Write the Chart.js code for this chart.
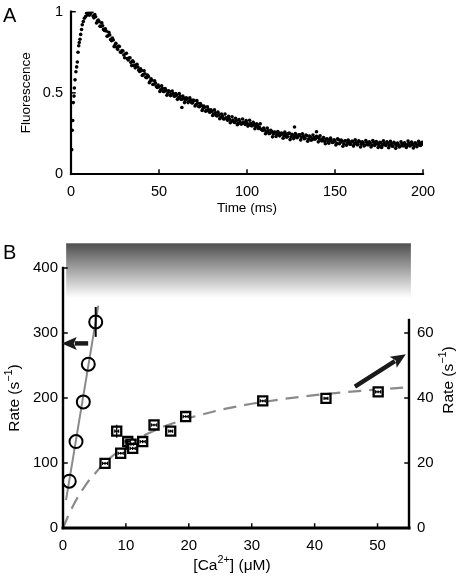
<!DOCTYPE html>
<html><head><meta charset="utf-8">
<script src="https://cdn.jsdelivr.net/npm/chart.js@4.4.0/dist/chart.umd.min.js"></script>
<style>
html,body{margin:0;padding:0;background:#fff;width:464px;height:582px;overflow:hidden;}
canvas{position:absolute;left:0;}
#c1{top:0}
#c2{top:230px}
</style></head><body>
<canvas id="c1" width="464" height="230"></canvas>
<canvas id="c2" width="464" height="352"></canvas>
<script>
// ---------------- Panel A data ----------------
const riseTime  = [0.4, 0.7, 1.0, 1.3, 1.7, 1.9, 2.3, 2.8, 3.2, 3.6, 4.0, 4.4, 4.7, 5.1, 5.5, 6.0, 6.4, 7.0, 7.6, 8.3, 8.9, 9.4, 9.8];
const riseValue = [0.15, 0.27, 0.33, 0.44, 0.48, 0.53, 0.58, 0.63, 0.66, 0.69, 0.75, 0.79, 0.81, 0.83, 0.86, 0.89, 0.92, 0.94, 0.96, 0.97, 0.99, 0.98, 1.00];
const decayStartMs = 10;   // samples every 1 ms from 10 ms to 200 ms
const decayValue = [
  0.992, 0.988, 1.000, 0.962, 0.969, 0.942, 0.938, 0.909, 0.913, 0.884,
  0.881, 0.852, 0.857, 0.821, 0.826, 0.795, 0.781, 0.788, 0.752, 0.761,
  0.733, 0.741, 0.712, 0.715, 0.688, 0.697, 0.668, 0.671, 0.659, 0.632,
  0.637, 0.612, 0.618, 0.593, 0.601, 0.572, 0.578, 0.553, 0.561, 0.533,
  0.536, 0.519, 0.527, 0.508, 0.516, 0.498, 0.507, 0.489, 0.496, 0.479,
  0.486, 0.470, 0.478, 0.461, 0.469, 0.455, 0.462, 0.447, 0.456, 0.438,
  0.451, 0.428, 0.436, 0.415, 0.423, 0.404, 0.411, 0.392, 0.399, 0.381,
  0.386, 0.369, 0.377, 0.358, 0.366, 0.349, 0.357, 0.339, 0.347, 0.331,
  0.339, 0.326, 0.333, 0.318, 0.329, 0.312, 0.322, 0.309, 0.318, 0.305,
  0.316, 0.302, 0.311, 0.297, 0.306, 0.293, 0.301, 0.288, 0.276, 0.268,
  0.271, 0.259, 0.266, 0.251, 0.262, 0.246, 0.257, 0.243, 0.253, 0.240,
  0.249, 0.236, 0.244, 0.231, 0.252, 0.229, 0.240, 0.227, 0.238, 0.233,
  0.241, 0.226, 0.232, 0.219, 0.236, 0.215, 0.228, 0.213, 0.225, 0.218,
  0.227, 0.219, 0.209, 0.217, 0.202, 0.214, 0.198, 0.210, 0.204, 0.196,
  0.204, 0.189, 0.211, 0.194, 0.202, 0.186, 0.205, 0.191, 0.198, 0.184,
  0.201, 0.187, 0.195, 0.181, 0.199, 0.183, 0.192, 0.178, 0.196, 0.180,
  0.191, 0.178, 0.196, 0.183, 0.189, 0.175, 0.193, 0.180, 0.187, 0.176,
  0.190, 0.177, 0.185, 0.172, 0.188, 0.176, 0.182, 0.170, 0.186, 0.174,
  0.183, 0.175, 0.189, 0.177, 0.184, 0.172, 0.187, 0.179, 0.191, 0.181, 0.186
];
const decayHalfStartMs = 10.5;   // interleaved samples, every 1 ms from 10.5 ms to 199.5 ms
const decayHalfValue = [
  0.979, 0.998, 0.973, 0.982, 0.930, 0.948, 0.911, 0.931, 0.891, 0.895,
  0.849, 0.873, 0.828, 0.837, 0.785, 0.806, 0.768, 0.786, 0.749, 0.758,
  0.716, 0.744, 0.703, 0.716, 0.668, 0.690, 0.654, 0.676, 0.640, 0.648,
  0.607, 0.636, 0.596, 0.610, 0.563, 0.586, 0.551, 0.574, 0.539, 0.548,
  0.509, 0.543, 0.508, 0.527, 0.485, 0.513, 0.483, 0.511, 0.481, 0.495,
  0.460, 0.495, 0.461, 0.481, 0.440, 0.469, 0.440, 0.469, 0.440, 0.455,
  0.419, 0.452, 0.416, 0.434, 0.391, 0.418, 0.387, 0.414, 0.383, 0.396,
  0.360, 0.395, 0.361, 0.381, 0.340, 0.369, 0.340, 0.369, 0.340, 0.355,
  0.316, 0.353, 0.321, 0.343, 0.304, 0.335, 0.308, 0.339, 0.312, 0.329,
  0.295, 0.331, 0.298, 0.319, 0.279, 0.309, 0.281, 0.309, 0.272, 0.283,
  0.248, 0.283, 0.249, 0.269, 0.229, 0.259, 0.231, 0.262, 0.235, 0.252,
  0.220, 0.258, 0.227, 0.250, 0.212, 0.244, 0.218, 0.250, 0.224, 0.242,
  0.210, 0.248, 0.217, 0.240, 0.202, 0.234, 0.208, 0.240, 0.214, 0.232,
  0.198, 0.235, 0.203, 0.225, 0.186, 0.217, 0.190, 0.221, 0.194, 0.211,
  0.179, 0.217, 0.186, 0.209, 0.171, 0.203, 0.177, 0.209, 0.183, 0.201,
  0.172, 0.211, 0.180, 0.204, 0.166, 0.199, 0.173, 0.206, 0.180, 0.199,
  0.167, 0.206, 0.176, 0.200, 0.163, 0.196, 0.171, 0.204, 0.179, 0.198,
  0.162, 0.201, 0.171, 0.195, 0.158, 0.191, 0.166, 0.199, 0.174, 0.193,
  0.164, 0.203, 0.173, 0.197, 0.160, 0.193, 0.168, 0.201, 0.176, 0.195
];
const strayTime  = [63, 127, 139.5, 176.5];
const strayValue = [0.41, 0.29, 0.26, 0.163];
const timeTicks  = [0, 50, 100, 150, 200];
const fluorTicks = [0, 0.5, 1];

// ---------------- Panel B data ----------------
const circleCa      = [1.0, 2.07, 3.23, 4.02, 5.2];
const circleRate    = [72, 133, 194, 252, 317];
const circleRateErr = [0, 0, 0, 0, 23];
const circleFitCa   = [0.48, 5.61];
const circleFitRate = [43, 342];

const squareCa      = [6.68, 8.54, 9.17, 10.29, 10.8, 11.08, 12.67, 14.47, 17.12, 19.5, 31.75, 41.8, 50.1];
const squareRate    = [19.9, 29.8, 23.0, 26.6, 25.8, 24.5, 26.6, 31.7, 29.8, 34.3, 39.1, 39.9, 41.9];
const squareCaErr   = [0.4, 0.3, 0.4, 0.4, 0.4, 0.4, 0.4, 0.4, 0.3, 0.4, 0.4, 0.3, 0.4];
const squareRateErr = [0.4, 2.0, 0.4, 0.5, 0.5, 0.5, 0.5, 0.4, 0.4, 0.4, 0.4, 0.4, 0.4];

const hyperFitCa   = [0, 1, 2, 3, 4, 6, 8, 10, 13, 16, 20, 25, 30, 35, 40, 45, 50, 55];
const hyperFitRate = [0, 4.52, 8.31, 11.53, 14.31, 18.84, 22.39, 25.25, 28.61, 31.21, 33.88, 36.37, 38.24, 39.70, 40.87, 41.83, 42.63, 43.31];

const caTicks        = [0, 10, 20, 30, 40, 50];
const rateTicksLeft  = [0, 100, 200, 300, 400];
const rateTicksRight = [0, 20, 40, 60];

// annotations
const bandCa   = [0.5, 55.3];     // shaded band (Ca range)
const bandRate = [354, 438];      // shaded band (left-axis rate range)
const leftArrow  = {ca: [4.0, -0.2], rate: [284, 284]};
const rightArrow = {ca: [46.4, 54.5], rate: [43.5, 53.5]};
const rightAxisTop = 64;

// ---------------- styling ----------------
const FONT = '"Liberation Sans", Arial, Helvetica, sans-serif';
Chart.defaults.font.family = FONT;
Chart.defaults.color = '#000';
const TICK_A = 14.5, TITLE_A = 13.5, TICK_B = 15, TITLE_B = 15.5;
const fmt = v => String(v);
const noPadV = s => { s.paddingTop = 0; s.paddingBottom = 0; };
const noPadH = s => { s.paddingLeft = 0; s.paddingRight = 0; };

function drawRich(ctx, parts, cx, cy, rot, size) {
  ctx.save();
  ctx.translate(cx, cy);
  ctx.rotate(rot);
  const big = size + 'px ' + FONT, small = (size * 0.7) + 'px ' + FONT;
  let w = 0;
  const ws = parts.map(([t, s]) => { ctx.font = s ? small : big; const m = ctx.measureText(t).width; w += m; return m; });
  let xx = -w / 2;
  ctx.textBaseline = 'middle'; ctx.textAlign = 'left'; ctx.fillStyle = '#000';
  parts.forEach(([t, s], i) => { ctx.font = s ? small : big; ctx.fillText(t, xx, s ? -size * 0.4 : 0); xx += ws[i]; });
  ctx.restore();
}
function line(ctx, x1, y1, x2, y2, w, c) {
  ctx.beginPath(); ctx.moveTo(x1, y1); ctx.lineTo(x2, y2);
  ctx.lineWidth = w; ctx.strokeStyle = c || '#000'; ctx.stroke();
}
function arrow(ctx, x1, y1, x2, y2) {
  const ang = Math.atan2(y2 - y1, x2 - x1), hl = 15, hw = 6.5;
  const bx = x2 - hl * Math.cos(ang), by = y2 - hl * Math.sin(ang);
  ctx.save();
  ctx.lineCap = 'butt';
  line(ctx, x1, y1, bx + 2 * Math.cos(ang), by + 2 * Math.sin(ang), 4.5, '#1a1a1a');
  ctx.beginPath();
  ctx.moveTo(x2, y2);
  ctx.lineTo(bx + hw * Math.sin(ang), by - hw * Math.cos(ang));
  ctx.lineTo(bx + 3 * Math.cos(ang), by + 3 * Math.sin(ang));
  ctx.lineTo(bx - hw * Math.sin(ang), by + hw * Math.cos(ang));
  ctx.closePath(); ctx.fillStyle = '#1a1a1a'; ctx.fill();
  ctx.restore();
}

// ---------------- Panel A ----------------
const fluorPoints = riseTime.map((t, i) => ({x: t, y: riseValue[i]}))
  .concat(decayValue.map((v, i) => ({x: decayStartMs + i, y: v})))
  .concat(decayHalfValue.map((v, i) => ({x: decayHalfStartMs + i, y: v})))
  .concat(strayTime.map((t, i) => ({x: t, y: strayValue[i]})));

const panelA = {
  id: 'panelA',
  afterDraw(chart) {
    const {ctx, scales: {x, y}, chartArea: ca} = chart;
    const x0 = x.getPixelForValue(0), x1 = x.getPixelForValue(200);
    const y0 = y.getPixelForValue(0), y1 = y.getPixelForValue(1);
    ctx.save();
    ctx.lineCap = 'square';
    line(ctx, x0, y0, x1, y0, 2.2);
    line(ctx, x0, y0, x0, y1, 2.2);
    timeTicks.forEach(v => { const p = x.getPixelForValue(v); line(ctx, p, y0, p, y0 - 4, 1.5); });
    fluorTicks.forEach(v => { const p = y.getPixelForValue(v); line(ctx, x0, p, x0 + 4, p, 1.5); });
    drawRich(ctx, [['Fluorescence', false]], 26.7, (ca.top + ca.bottom) / 2, -Math.PI / 2, TITLE_A);
    drawRich(ctx, [['Time (ms)', false]], (x0 + x1) / 2, 208, 0, TITLE_A);
    ctx.font = '20px ' + FONT; ctx.textAlign = 'left'; ctx.textBaseline = 'alphabetic';
    ctx.fillStyle = '#000'; ctx.fillText('A', 3, 21.7);
    ctx.restore();
  }
};

new Chart(document.getElementById('c1'), {
  type: 'scatter',
  data: {datasets: [{
    data: fluorPoints, pointRadius: 1.8, pointBackgroundColor: '#000',
    pointBorderWidth: 0, pointBorderColor: '#000'
  }]},
  options: {
    responsive: false, animation: false, events: [],
    layout: {padding: {top: 11.7, right: 41, left: 0, bottom: 0}},
    plugins: {legend: {display: false}, tooltip: {enabled: false}},
    scales: {
      x: {type: 'linear', min: 0, max: 200,
          afterBuildTicks: s => { s.ticks = timeTicks.map(v => ({value: v})); },
          afterFit: s => { s.height = 56; noPadH(s); },
          grid: {display: false, drawTicks: false}, border: {display: false},
          ticks: {font: {size: TICK_A}, padding: 9, maxRotation: 0, autoSkip: false, callback: fmt}},
      y: {type: 'linear', min: 0, max: 1,
          afterBuildTicks: s => { s.ticks = fluorTicks.map(v => ({value: v})); },
          afterFit: s => { s.width = 71; noPadV(s); },
          grid: {display: false, drawTicks: false}, border: {display: false},
          ticks: {font: {size: TICK_A}, padding: 8, autoSkip: false, callback: fmt}}
    }
  },
  plugins: [panelA]
});

// ---------------- Panel B ----------------
const panelB = {
  id: 'panelB',
  beforeDatasetsDraw(chart) {
    const {ctx, scales: {x, y}} = chart;
    const xa = x.getPixelForValue(bandCa[0]), xb = x.getPixelForValue(bandCa[1]);
    const yt = y.getPixelForValue(bandRate[1]), yb = y.getPixelForValue(bandRate[0]);
    const g = ctx.createLinearGradient(0, yt, 0, yb);
    g.addColorStop(0, '#4f4f4f'); g.addColorStop(1, '#ffffff');
    ctx.save(); ctx.fillStyle = g; ctx.fillRect(xa, yt, xb - xa, yb - yt); ctx.restore();
  },
  afterDatasetsDraw(chart) {
    const {ctx, scales: {x, y, y2}} = chart;
    ctx.save();
    circleCa.forEach((c, i) => {
      const e = circleRateErr[i];
      if (e > 0) {
        const px = x.getPixelForValue(c);
        line(ctx, px, y.getPixelForValue(circleRate[i] - e), px, y.getPixelForValue(circleRate[i] + e), 2);
      }
    });
    squareCa.forEach((c, i) => {
      const px = x.getPixelForValue(c), py = y2.getPixelForValue(squareRate[i]);
      const xl = x.getPixelForValue(c - squareCaErr[i]), xr = x.getPixelForValue(c + squareCaErr[i]);
      line(ctx, xl, py, xr, py, 1.3);
      line(ctx, xl, py - 1.6, xl, py + 1.6, 1.3);
      line(ctx, xr, py - 1.6, xr, py + 1.6, 1.3);
      const yt = y2.getPixelForValue(squareRate[i] + squareRateErr[i]);
      const yb = y2.getPixelForValue(squareRate[i] - squareRateErr[i]);
      line(ctx, px, yt, px, yb, 1.3);
    });
    ctx.restore();
  },
  afterDraw(chart) {
    const {ctx, scales: {x, y, y2}} = chart;
    const x0 = x.getPixelForValue(0), x1 = x.getPixelForValue(55);
    const yb = y.getPixelForValue(0), yt = y.getPixelForValue(400);
    const yr = y2.getPixelForValue(rightAxisTop);
    ctx.save();
    ctx.lineCap = 'square';
    line(ctx, x0, yb, x1, yb, 3);
    line(ctx, x0, yb, x0, yt, 2.4);
    line(ctx, x1, yb, x1, yr, 2.4);
    caTicks.forEach(v => { const p = x.getPixelForValue(v); line(ctx, p, yb, p, yb - 4, 1.5); });
    rateTicksLeft.forEach(v => { const p = y.getPixelForValue(v); line(ctx, x0, p, x0 + 4, p, 1.5); });
    rateTicksRight.forEach(v => { const p = y2.getPixelForValue(v); line(ctx, x1, p, x1 - 4, p, 1.5); });
    arrow(ctx, x.getPixelForValue(leftArrow.ca[0]), y.getPixelForValue(leftArrow.rate[0]),
               x.getPixelForValue(leftArrow.ca[1]), y.getPixelForValue(leftArrow.rate[1]));
    arrow(ctx, x.getPixelForValue(rightArrow.ca[0]), y2.getPixelForValue(rightArrow.rate[0]),
               x.getPixelForValue(rightArrow.ca[1]), y2.getPixelForValue(rightArrow.rate[1]));
    const rate = [['Rate (s', false], ['\u22121', true], [')', false]];
    drawRich(ctx, rate, 15, 168, -Math.PI / 2, TITLE_B);
    drawRich(ctx, rate, 449, 150, -Math.PI / 2, TITLE_B);
    drawRich(ctx, [['[Ca', false], ['2+', true], ['] (\u03bcM)', false]], 232, 336, 0, TITLE_B);
    ctx.font = '20px ' + FONT; ctx.textAlign = 'left'; ctx.textBaseline = 'alphabetic';
    ctx.fillStyle = '#000'; ctx.fillText('B', 3, 29.3);
    ctx.restore();
  }
};

const GRAY = '#8a8a8a';
new Chart(document.getElementById('c2'), {
  type: 'scatter',
  data: {datasets: [
    {data: circleFitCa.map((c, i) => ({x: c, y: circleFitRate[i]})), yAxisID: 'y',
     showLine: true, borderColor: GRAY, borderWidth: 2, pointRadius: 0, order: 3},
    {data: hyperFitCa.map((c, i) => ({x: c, y: hyperFitRate[i]})), yAxisID: 'y2',
     showLine: true, borderColor: GRAY, borderWidth: 2.2, borderDash: [13, 8], pointRadius: 0,
     tension: 0, order: 3},
    {data: circleCa.map((c, i) => ({x: c, y: circleRate[i]})), yAxisID: 'y',
     pointStyle: 'circle', pointRadius: 6.5, pointBorderWidth: 2, pointBorderColor: '#000',
     pointBackgroundColor: 'rgba(0,0,0,0)', order: 1},
    {data: squareCa.map((c, i) => ({x: c, y: squareRate[i]})), yAxisID: 'y2',
     pointStyle: 'rect', pointRadius: 6.4, pointBorderWidth: 2.3, pointBorderColor: '#000',
     pointBackgroundColor: '#fff', order: 1}
  ]},
  options: {
    responsive: false, animation: false, events: [],
    layout: {padding: {top: 38, right: 0, left: 0, bottom: 0}},
    plugins: {legend: {display: false}, tooltip: {enabled: false}},
    scales: {
      x: {type: 'linear', min: 0, max: 55,
          afterBuildTicks: s => { s.ticks = caTicks.map(v => ({value: v})); },
          afterFit: s => { s.height = 54; noPadH(s); },
          grid: {display: false, drawTicks: false}, border: {display: false},
          ticks: {font: {size: TICK_B}, padding: 9, maxRotation: 0, autoSkip: false, callback: fmt}},
      y: {type: 'linear', position: 'left', min: 0, max: 400,
          afterBuildTicks: s => { s.ticks = rateTicksLeft.map(v => ({value: v})); },
          afterFit: s => { s.width = 63; noPadV(s); },
          grid: {display: false, drawTicks: false}, border: {display: false},
          ticks: {font: {size: TICK_B}, padding: 5, autoSkip: false, callback: fmt}},
      y2: {type: 'linear', position: 'right', min: 0, max: 80,
          afterBuildTicks: s => { s.ticks = rateTicksRight.map(v => ({value: v})); },
          afterFit: s => { s.width = 55; noPadV(s); },
          grid: {display: false, drawTicks: false}, border: {display: false},
          ticks: {font: {size: TICK_B}, padding: 8, autoSkip: false, callback: fmt}}
    }
  },
  plugins: [panelB]
});
</script>
</body></html>
